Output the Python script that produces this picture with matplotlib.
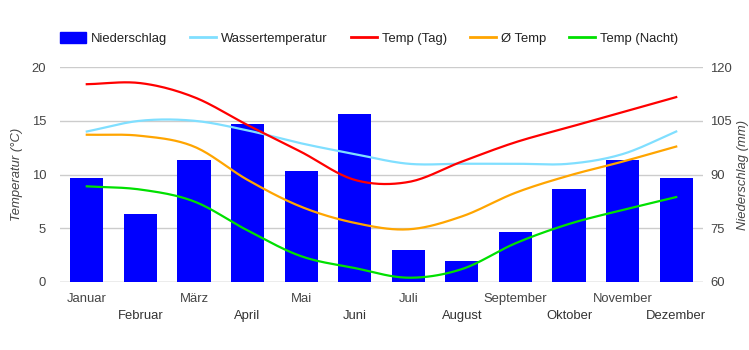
import numpy as np
import matplotlib
matplotlib.use("Agg")
import matplotlib.pyplot as plt
from matplotlib.patches import Patch
from matplotlib.lines import Line2D

plt.rcParams['font.family'] = ['Liberation Sans', 'DejaVu Sans']

monate = ['Januar', 'Februar', 'März', 'April', 'Mai', 'Juni', 'Juli',
          'August', 'September', 'Oktober', 'November', 'Dezember']
niederschlag = [89, 79, 94, 104, 91, 107, 69, 66, 74, 86, 94, 89]
wasser = [14.0, 15.0, 15.0, 14.1, 12.9, 11.9, 11.0, 11.0, 11.0, 11.0, 11.9, 14.0]
temp_tag = [18.4, 18.5, 17.2, 14.6, 12.1, 9.5, 9.3, 11.2, 13.0, 14.4, 15.8, 17.2]
temp_avg = [13.7, 13.6, 12.6, 9.5, 7.0, 5.5, 4.9, 6.1, 8.3, 9.9, 11.2, 12.6]
temp_nacht = [8.9, 8.6, 7.5, 4.8, 2.4, 1.3, 0.4, 1.2, 3.6, 5.4, 6.7, 7.9]


def glatt(x, y, n=20):
    # Catmull-Rom Kurve durch die Monatswerte
    x = np.asarray(x, float)
    y = np.asarray(y, float)
    px = np.concatenate([[2 * x[0] - x[1]], x, [2 * x[-1] - x[-2]]])
    py = np.concatenate([[2 * y[0] - y[1]], y, [2 * y[-1] - y[-2]]])
    xs, ys = [], []
    t = np.linspace(0, 1, n, endpoint=False)
    for i in range(1, len(px) - 2):
        for p, out in ((px, xs), (py, ys)):
            p0, p1, p2, p3 = p[i - 1], p[i], p[i + 1], p[i + 2]
            out.extend(0.5 * ((2 * p1) + (-p0 + p2) * t
                              + (2 * p0 - 5 * p1 + 4 * p2 - p3) * t ** 2
                              + (-p0 + 3 * p1 - 3 * p2 + p3) * t ** 3))
    xs.append(x[-1])
    ys.append(y[-1])
    return np.array(xs), np.array(ys)


fs = 9.4
fig = plt.figure(figsize=(7.49, 3.5), dpi=100)
ax_r = fig.add_axes([60 / 749, 1 - 282 / 350, 643 / 749, 215 / 350])
ax_l = ax_r.twinx()

x = np.arange(len(monate))
grau = '#444444'

ax_r.bar(x, niederschlag, width=0.62, color='#0000ff', zorder=2)
ax_r.set_ylim(60, 120)
ax_r.set_yticks([60, 75, 90, 105, 120])
ax_r.yaxis.tick_right()
ax_r.yaxis.set_label_position('right')
ax_r.set_ylabel('Niederschlag (mm)', style='italic', color=grau, fontsize=fs, labelpad=4)
ax_r.grid(axis='y', which='major', color='#cccccc', linewidth=1, zorder=0)
ax_r.set_axisbelow(True)

farben = ['#80dfff', '#ff0000', '#ffa500', '#00e000']
for werte, farbe in zip([wasser, temp_tag, temp_avg, temp_nacht], farben):
    xs, ys = glatt(x, werte)
    ax_l.plot(xs, ys, color=farbe, linewidth=1.6, zorder=3)
ax_l.set_ylim(0, 20)
ax_l.set_yticks([0, 5, 10, 15, 20])
ax_l.yaxis.tick_left()
ax_l.yaxis.set_label_position('left')
ax_l.set_ylabel('Temperatur (°C)', style='italic', color=grau, fontsize=fs, labelpad=6)

# Monatsnamen abwechselnd in zwei Zeilen
ax_r.set_xlim(-0.5, len(monate) - 0.5)
ax_r.set_xticks(x[::2])
ax_r.set_xticklabels(monate[::2])
ax_r.set_xticks(x[1::2], minor=True)
ax_r.set_xticklabels(monate[1::2], minor=True)

for a in (ax_r, ax_l):
    for s in a.spines.values():
        s.set_visible(False)
    a.tick_params(which='both', length=0, labelsize=fs, labelcolor=grau)
ax_r.tick_params(axis='y', pad=5)
ax_l.tick_params(axis='y', pad=10)
ax_r.tick_params(axis='x', which='major', pad=8)
ax_r.tick_params(axis='x', which='minor', pad=20.5, labelcolor='#333333')
ax_r.axhline(60, color='#cccccc', linewidth=1, zorder=1)

handles = [Patch(color='#0000ff')] + [Line2D([], [], color=f, linewidth=2) for f in farben]
labels = ['Niederschlag', 'Wassertemperatur', 'Temp (Tag)', 'Ø Temp', 'Temp (Nacht)']
fig.legend(handles, labels, loc='upper left', bbox_to_anchor=(60 / 749, 1 - 32 / 350),
           ncol=5, frameon=False, fontsize=fs, handlelength=2.0, handleheight=0.9,
           handletextpad=0.38, columnspacing=1.75, borderpad=0, borderaxespad=0,
           labelcolor='#222222')

fig.savefig('out.png', dpi=100)
